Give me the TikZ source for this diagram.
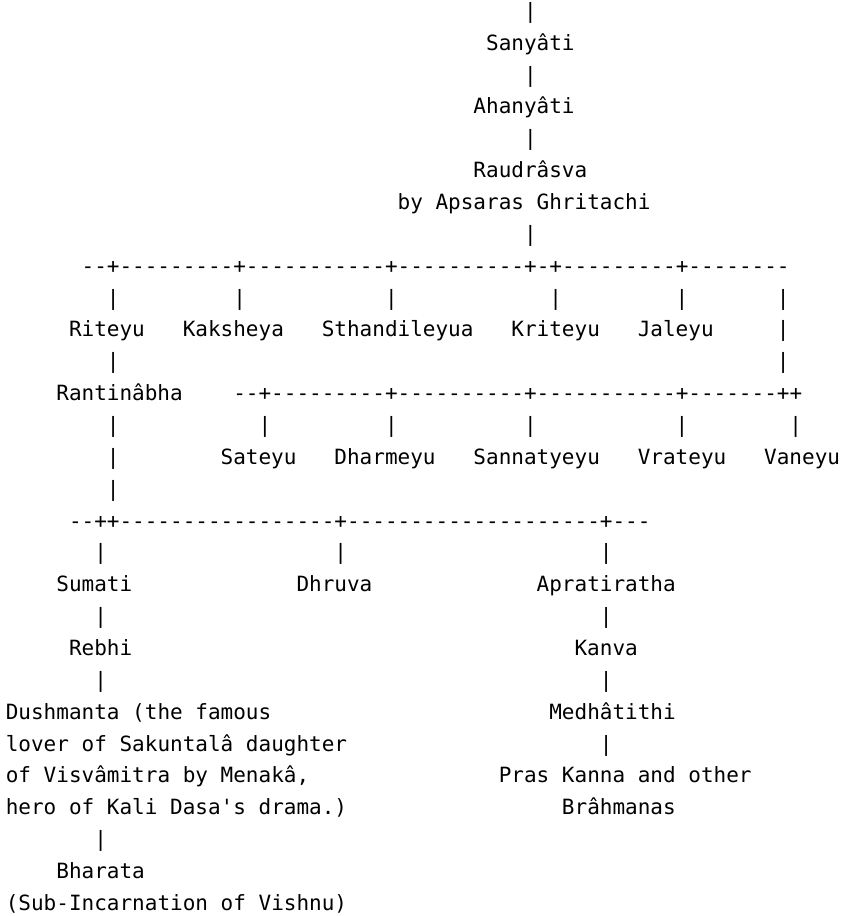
\documentclass[tikz,border=0pt]{standalone}
\usepackage{fontspec}
\setmonofont{DejaVu Sans Mono}
\tikzset{
  asc/.style={anchor=base west, inner sep=0pt, outer sep=0pt,
    font=\ttfamily\fontsize{21}{25}\selectfont, text=black}
}
% #1 name, #2 column, #3 line, #4 text
\newcommand\asc[4]{\node[asc] (#1) at ({5.8+#2*12.64},{18.3+(#3-1)*31.86}) {#4};}
\begin{document}
\begin{tikzpicture}[x=1pt,y=-1pt]
\fill[white] (0,0) rectangle (841,916);
\useasboundingbox (0,0) rectangle (841,916);
% top chain
\asc{p1}{41}{1}{|}
\asc{sanyati}{38}{2}{Sanyâti}
\asc{p3}{41}{3}{|}
\asc{ahanyati}{37}{4}{Ahanyâti}
\asc{p5}{41}{5}{|}
\asc{raudrasva}{37}{6}{Raudrâsva}
\asc{apsaras}{31}{7}{by Apsaras Ghritachi}
\asc{p8}{41}{8}{|}
\asc{bar1}{6}{9}{--+---------+-----------+----------+-+---------+--------}
% line 10
\asc{p10a}{8}{10}{|}
\asc{p10b}{18}{10}{|}
\asc{p10c}{30}{10}{|}
\asc{p10d}{43}{10}{|}
\asc{p10e}{53}{10}{|}
\asc{p10f}{61}{10}{|}
% line 11
\asc{riteyu}{5}{11}{Riteyu}
\asc{kaksheya}{14}{11}{Kaksheya}
\asc{sthandileyua}{25}{11}{Sthandileyua}
\asc{kriteyu}{40}{11}{Kriteyu}
\asc{jaleyu}{50}{11}{Jaleyu}
\asc{p11}{61}{11}{|}
% line 12
\asc{p12a}{8}{12}{|}
\asc{p12b}{61}{12}{|}
% line 13
\asc{rantinabha}{4}{13}{Rantinâbha}
\asc{bar2}{18}{13}{--+---------+----------+-----------+-------++}
% line 14
\asc{p14a}{8}{14}{|}
\asc{p14b}{20}{14}{|}
\asc{p14c}{30}{14}{|}
\asc{p14d}{41}{14}{|}
\asc{p14e}{53}{14}{|}
\asc{p14f}{62}{14}{|}
% line 15
\asc{p15}{8}{15}{|}
\asc{sateyu}{17}{15}{Sateyu}
\asc{dharmeyu}{26}{15}{Dharmeyu}
\asc{sannatyeyu}{37}{15}{Sannatyeyu}
\asc{vrateyu}{50}{15}{Vrateyu}
\asc{vaneyu}{60}{15}{Vaneyu}
% line 16
\asc{p16}{8}{16}{|}
% line 17
\asc{bar3}{5}{17}{--++-----------------+--------------------+---}
% line 18
\asc{p18a}{7}{18}{|}
\asc{p18b}{26}{18}{|}
\asc{p18c}{47}{18}{|}
% line 19
\asc{sumati}{4}{19}{Sumati}
\asc{dhruva}{23}{19}{Dhruva}
\asc{apratiratha}{42}{19}{Apratiratha}
% line 20
\asc{p20a}{7}{20}{|}
\asc{p20b}{47}{20}{|}
% line 21
\asc{rebhi}{5}{21}{Rebhi}
\asc{kanva}{45}{21}{Kanva}
% line 22
\asc{p22a}{7}{22}{|}
\asc{p22b}{47}{22}{|}
% lines 23-26
\asc{dush1}{0}{23}{Dushmanta (the famous}
\asc{medhatithi}{43}{23}{Medhâtithi}
\asc{dush2}{0}{24}{lover of Sakuntalâ daughter}
\asc{p24}{47}{24}{|}
\asc{dush3}{0}{25}{of Visvâmitra by Menakâ,}
\asc{pras}{39}{25}{Pras Kanna and other}
\asc{dush4}{0}{26}{hero of Kali Dasa's drama.)}
\asc{brahmanas}{44}{26}{Brâhmanas}
% lines 27-29
\asc{p27}{7}{27}{|}
\asc{bharata}{4}{28}{Bharata}
\asc{bharata2}{0}{29}{(Sub-Incarnation of Vishnu)}
\end{tikzpicture}
\end{document}
